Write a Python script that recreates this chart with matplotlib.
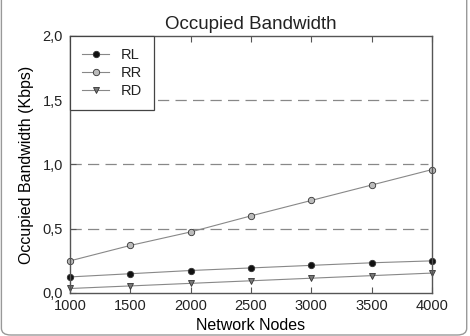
import matplotlib
matplotlib.use("Agg")
import matplotlib.pyplot as plt
from matplotlib.patches import FancyBboxPatch
from matplotlib.ticker import FuncFormatter

nodes = [1000, 1500, 2000, 2500, 3000, 3500, 4000]
rl = [0.125, 0.15, 0.175, 0.195, 0.215, 0.235, 0.25]
rr = [0.25, 0.37, 0.475, 0.60, 0.72, 0.84, 0.96]
rd = [0.035, 0.055, 0.075, 0.095, 0.115, 0.135, 0.155]

plt.rcParams["font.family"] = "Liberation Sans"
plt.rcParams["text.color"] = "#222222"

fig = plt.figure(figsize=(4.7, 3.36), dpi=100)
ax = fig.add_axes([0.149, 0.128, 0.770, 0.765])

# kesikli yatay çizgiler
for y in [0.5, 1.0, 1.5]:
    ax.axhline(y, xmin=0.0, xmax=0.99, color="#888888", lw=0.9, dashes=(9, 5), zorder=0)

line_kw = dict(color="#888888", lw=0.8, ms=4.6, markeredgecolor="#333333", markeredgewidth=0.6)
ax.plot(nodes, rl, marker="o", markerfacecolor="#111111", label="RL", clip_on=False, **line_kw)
ax.plot(nodes, rr, marker="o", markerfacecolor="#bbbbbb", label="RR", clip_on=False, **line_kw)
ax.plot(nodes, rd, marker="v", markerfacecolor="#777777", label="RD", clip_on=False, **line_kw)

ax.set_xlim(1000, 4000)
ax.set_ylim(0, 2.0)
ax.set_xticks(nodes)
ax.set_yticks([0, 0.5, 1.0, 1.5, 2.0])
ax.yaxis.set_major_formatter(FuncFormatter(lambda v, p: f"{v:.1f}".replace(".", ",")))
ax.tick_params(direction="in", top=True, bottom=True, right=False, labelsize=10.5,
               length=4, color="#555555", labelcolor="#222222")
ax.tick_params(axis="x", pad=4)
ax.tick_params(axis="y", pad=5)
for s in ax.spines.values():
    s.set_color("#555555")
    s.set_linewidth(1.0)

ax.set_title("Occupied Bandwidth", fontsize=13.5, pad=5)
ax.set_xlabel("Network Nodes", fontsize=11.5, labelpad=4)
ax.set_ylabel("Occupied Bandwidth (Kbps)", fontsize=11.5, labelpad=6)

leg = ax.legend(loc="upper left", bbox_to_anchor=(0, 1), fancybox=False, framealpha=1,
                edgecolor="#444444", fontsize=10.5, borderpad=0.85, handlelength=1.8,
                handletextpad=0.8, labelspacing=0.25, borderaxespad=0)
leg.get_frame().set_linewidth(0.9)

border = FancyBboxPatch((0.003, 0.003), 0.99, 1.1, boxstyle="round,pad=0,rounding_size=0.02",
                        transform=fig.transFigure, fill=False, ec="#999999", lw=1.0, clip_on=False)
fig.patches.append(border)

fig.savefig("out.png", dpi=100)
